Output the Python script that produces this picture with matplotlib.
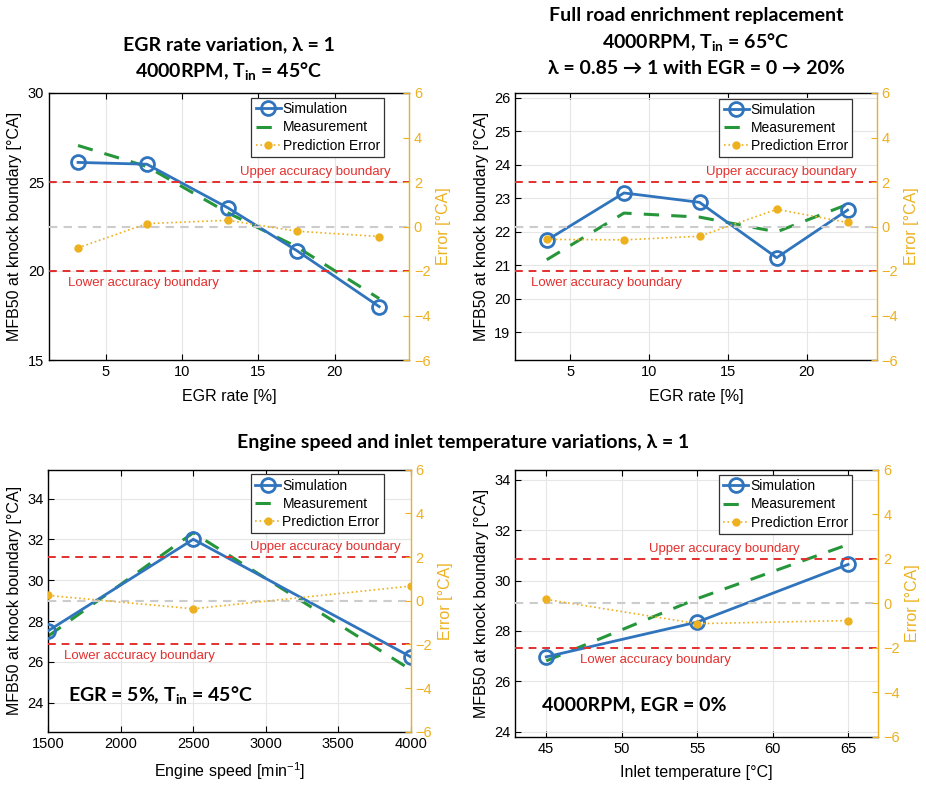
import matplotlib
matplotlib.use("Agg")
import matplotlib.pyplot as plt
import matplotlib.transforms as mtransforms

plt.rcParams['font.family'] = ['Liberation Sans', 'DejaVu Sans']
plt.rcParams['mathtext.default'] = 'regular'

# ---------------- data ----------------
# Panel 1: EGR rate variation
egr1 = [3.2, 7.7, 13.0, 17.5, 22.9]
sim1 = [26.1, 26.0, 23.55, 21.15, 18.0]
meas1 = [27.05, 25.87, 23.27, 21.36, 18.45]
err1 = [-0.96, 0.13, 0.28, -0.21, -0.45]

# Panel 2: full road enrichment replacement
egr2 = [3.5, 8.4, 13.2, 18.1, 22.6]
sim2 = [21.75, 23.16, 22.88, 21.23, 22.65]
meas2 = [21.17, 22.56, 22.44, 22.0, 22.82]
err2 = [-0.58, -0.60, -0.44, 0.77, 0.18]

# Panel 3: engine speed variation
speed3 = [1500, 2500, 4000]
sim3 = [27.53, 32.01, 26.25]
meas3 = [27.27, 32.33, 25.62]
err3 = [0.24, -0.37, 0.67]

# Panel 4: inlet temperature variation
tin4 = [45, 55, 65]
sim4 = [26.97, 28.35, 30.64]
meas4 = [26.81, 29.28, 31.43]
err4 = [0.17, -0.92, -0.78]

err_ticks = [-6, -4, -2, 0, 2, 4, 6]
boundary = [-2, 2]

C_SIM = '#2F74BC'
C_MEAS = '#26963A'
C_ERR = '#EDB120'
C_RED = '#E3302E'
C_GREY = '#CCCCCC'

fig = plt.figure(figsize=(9.26, 7.86), dpi=100)
W, H = 926, 786


def make_axes(x0, x1, ytop, ybot):
    return fig.add_axes([x0 / W, 1 - ybot / H, (x1 - x0) / W, (ybot - ytop) / H])


def panel(ax, x, sim, meas, err, xlim, ylim, xticks, yticks, xlabel,
          leg_anchor, up_pos, low_pos):
    ax.set_xlim(*xlim)
    ax.set_ylim(*ylim)
    ax.set_xticks(xticks)
    ax.set_yticks(yticks)
    ax.grid(True, color='#E6E6E6', lw=0.8)
    ax.set_axisbelow(True)
    l_sim, = ax.plot(x, sim, '-', color=C_SIM, lw=2.0, marker='o', ms=10,
                     mfc='none', mec=C_SIM, mew=2.0, zorder=3)
    l_meas, = ax.plot(x, meas, '--', color=C_MEAS, lw=2.2, dashes=(5, 4), zorder=2)
    ax.tick_params(direction='in', length=4, labelsize=10.5, top=True,
                   right=False, width=0.8)
    ax.set_xlabel(xlabel, fontsize=11.5, labelpad=7)
    ax.set_ylabel('MFB50 at knock boundary [°CA]', fontsize=11.5, labelpad=4)
    for s in ax.spines.values():
        s.set_linewidth(1.0)
    ax.spines['right'].set_visible(False)

    ax2 = ax.twinx()
    ax2.set_ylim(-6, 6)
    ax2.set_yticks(err_ticks)
    for k in ('left', 'top', 'bottom'):
        ax2.spines[k].set_visible(False)
    ax2.axhline(0, color=C_GREY, lw=1.5, ls='--', dashes=(4, 3), zorder=1)
    for b in boundary:
        ax2.axhline(b, color=C_RED, lw=1.4, ls='--', dashes=(4, 3), zorder=1)
    l_err, = ax2.plot(x, err, ':', color=C_ERR, lw=1.2, marker='o', ms=5,
                      mfc=C_ERR, mec=C_ERR, zorder=2)
    ax2.tick_params(axis='y', direction='in', length=4, labelsize=10.5,
                    colors=C_ERR, width=0.8)
    ax2.spines['right'].set_color(C_ERR)
    ax2.spines['right'].set_linewidth(1.0)
    ax2.set_ylabel('Error [°CA]', color=C_ERR, fontsize=11.5, labelpad=4)

    trans = mtransforms.blended_transform_factory(ax2.transAxes, ax2.transData)
    ax2.annotate('Upper accuracy boundary', xy=(up_pos[0], 2), xycoords=trans,
                 xytext=(0, 10), textcoords='offset pixels', ha=up_pos[1],
                 va='center', color=C_RED, fontsize=9.5)
    ax2.annotate('Lower accuracy boundary', xy=(low_pos[0], -2), xycoords=trans,
                 xytext=(0, -12), textcoords='offset pixels', ha=low_pos[1],
                 va='center', color=C_RED, fontsize=9.5)

    leg = ax2.legend([l_sim, l_meas, l_err],
                     ['Simulation', 'Measurement', 'Prediction Error'],
                     loc='upper right', bbox_to_anchor=leg_anchor,
                     fontsize=10, frameon=True, fancybox=False,
                     edgecolor='#333333', framealpha=1, borderpad=0.3,
                     labelspacing=0.3, handlelength=1.8, handletextpad=0.15,
                     borderaxespad=0)
    leg.get_frame().set_linewidth(0.9)
    return ax2


ax1 = make_axes(49, 409, 93, 360)
panel(ax1, egr1, sim1, meas1, err1, (1.3, 24.85), (15, 30), [5, 10, 15, 20],
      [15, 20, 25, 30], 'EGR rate [%]', (0.931, 0.981), (0.95, 'right'),
      (0.053, 'left'))

ax2 = make_axes(515.3, 876.7, 93, 360)
panel(ax2, egr2, sim2, meas2, err2, (1.5, 24.45), (18.18, 26.14),
      [5, 10, 15, 20], [19, 20, 21, 22, 23, 24, 25, 26], 'EGR rate [%]',
      (0.932, 0.979), (0.945, 'right'), (0.043, 'left'))

ax3 = make_axes(48.3, 410.7, 469.7, 731.7)
panel(ax3, speed3, sim3, meas3, err3, (1500, 4000), (22.58, 35.42),
      [1500, 2000, 2500, 3000, 3500, 4000], [24, 26, 28, 30, 32, 34],
      'Engine speed [min$^{-1}$]', (0.926, 0.982), (0.973, 'right'),
      (0.043, 'left'))
ax3.text(0.054, 0.14, 'EGR = 5%, T$_{in}$ = 45°C', transform=ax3.transAxes,
         fontsize=14, fontweight='bold', family=['Lato', 'DejaVu Sans'],
         ha='left', va='center', zorder=5)

ax4 = make_axes(515.3, 878.3, 469.7, 736.7)
panel(ax4, tin4, sim4, meas4, err4, (42.95, 67.0), (23.8, 34.4),
      [45, 50, 55, 60, 65], [24, 26, 28, 30, 32, 34],
      'Inlet temperature [°C]', (0.9275, 0.980), (0.576, 'center'),
      (0.385, 'center'))
ax4.text(0.073, 0.121, '4000RPM, EGR = 0%', transform=ax4.transAxes,
         fontsize=14, fontweight='bold', family=['Lato', 'DejaVu Sans'],
         ha='left', va='center', zorder=5)

tkw = dict(fontsize=14, fontweight='bold', family=['Lato', 'DejaVu Sans'],
           ha='center', va='center')
fig.text(229 / W, 1 - 45 / H, 'EGR rate variation, λ = 1', **tkw)
fig.text(229 / W, 1 - 71 / H, '4000RPM, T$_{in}$ = 45°C', **tkw)
fig.text(696 / W, 1 - 15 / H, 'Full road enrichment replacement', **tkw)
fig.text(696 / W, 1 - 42 / H, '4000RPM, T$_{in}$ = 65°C', **tkw)
fig.text(696 / W, 1 - 68 / H, 'λ = 0.85 → 1 with EGR = 0 → 20%', **tkw)
fig.text(463 / W, 1 - 443 / H,
         'Engine speed and inlet temperature variations, λ = 1', **tkw)

fig.savefig('out.png', dpi=100)
